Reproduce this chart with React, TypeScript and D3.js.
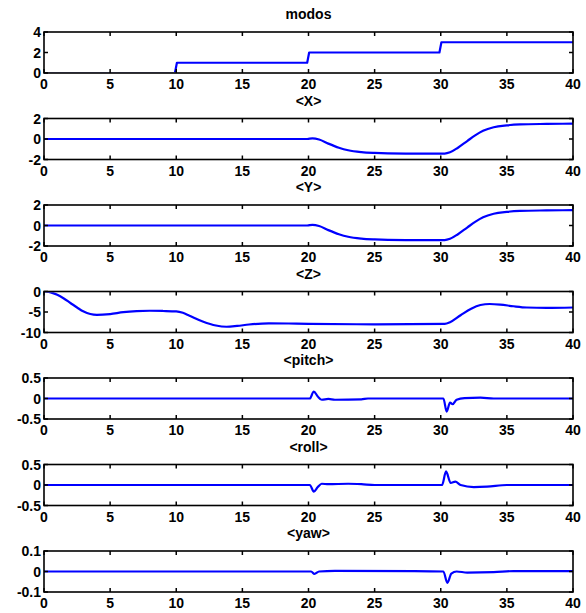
import React from "react";
import * as d3 from "d3";

const xTicks = [0, 5, 10, 15, 20, 25, 30, 35, 40];

const modos: [number, number][] = [
  [0, 0], [9.9, 0], [10.05, 1], [19.9, 1], [20.05, 2], [29.9, 2], [30.05, 3], [40, 3],
];

const posX: [number, number][] = [
  [0, 0], [19.9, 0], [20.3, 0.06], [20.8, -0.05], [21.5, -0.45], [22.3, -0.85], [23, -1.1],
  [24, -1.28], [25, -1.36], [26, -1.4], [28, -1.42], [30.3, -1.42], [30.7, -1.3], [31.3, -0.85],
  [32, -0.2], [32.6, 0.35], [33.2, 0.8], [34, 1.15], [35, 1.33], [36, 1.42], [38, 1.47], [40, 1.5],
];

const posY: [number, number][] = [
  [0, 0], [19.9, 0], [20.3, 0.06], [20.8, -0.05], [21.5, -0.45], [22.3, -0.85], [23, -1.1],
  [24, -1.28], [25, -1.36], [26, -1.4], [28, -1.42], [30.3, -1.42], [30.7, -1.3], [31.3, -0.85],
  [32, -0.2], [32.6, 0.35], [33.2, 0.8], [34, 1.15], [35, 1.33], [36, 1.42], [38, 1.47], [40, 1.5],
];

const posZ: [number, number][] = [
  [0, 0], [0.5, -0.2], [1, -0.8], [1.5, -1.7], [2, -2.8], [2.5, -3.9], [3, -4.9], [3.5, -5.5],
  [4, -5.7], [5, -5.5], [6, -5.05], [7, -4.8], [8, -4.7], [9, -4.75], [10, -4.85], [10.5, -5.2],
  [11, -5.9], [12, -7.3], [13, -8.3], [13.8, -8.6], [14.6, -8.4], [15.5, -8.05], [17, -7.75],
  [18.5, -7.8], [20, -7.9], [25, -8], [30.3, -7.9], [30.7, -7.5], [31.5, -5.8], [32.3, -4.2],
  [33, -3.3], [33.7, -3.05], [34.5, -3.2], [35.5, -3.6], [36.5, -3.9], [38, -4.0], [40, -3.9],
];

const pitch: [number, number][] = [
  [0, 0], [20.1, 0], [20.4, 0.17], [20.7, 0.05], [21, -0.03], [21.5, -0.01], [22, -0.03],
  [24, -0.02], [24.5, 0], [30.2, 0], [30.45, -0.32], [30.7, -0.1], [30.9, -0.14], [31.2, -0.03],
  [31.8, 0.01], [33, 0.02], [34, 0], [40, 0],
];

const roll: [number, number][] = [
  [0, 0], [20.1, 0], [20.4, -0.16], [20.7, -0.05], [21, 0.03], [21.5, 0.02], [23, 0.03],
  [24, 0.02], [25, 0], [30.1, 0], [30.4, 0.33], [30.75, 0.05], [31.1, 0.08], [31.5, 0.0],
  [32.5, -0.05], [33.5, -0.04], [35, 0], [40, 0],
];

const yaw: [number, number][] = [
  [0, 0], [20.2, 0], [20.45, -0.012], [20.8, 0.0], [22, 0.003], [28, 0.002], [30.2, 0],
  [30.5, -0.055], [30.8, -0.01], [31.2, 0], [32, -0.005], [34, -0.003], [35.5, 0.002], [40, 0.002],
];

const titles = ["modos", "<X>", "<Y>", "<Z>", "<pitch>", "<roll>", "<yaw>"];
const yDomains: [number, number][] = [[0, 4], [-2, 2], [-2, 2], [-10, 0], [-0.5, 0.5], [-0.5, 0.5], [-0.1, 0.1]];
const yTicks = [[0, 2, 4], [-2, 0, 2], [-2, 0, 2], [-10, -5, 0], [-0.5, 0, 0.5], [-0.5, 0, 0.5], [-0.1, 0, 0.1]];
const series = [modos, posX, posY, posZ, pitch, roll, yaw];

const W = 586;
const H = 613;
const left = 44;
const right = 573;
const firstTop = 32;
const step = 86.5;
const ph = 41;
const font = "'Liberation Sans', Arial, sans-serif";
const fs = 14;

function Panel({ i }: { i: number }) {
  const top = firstTop + i * step;
  const bottom = top + ph;
  const x = d3.scaleLinear().domain([0, 40]).range([left, right]);
  const y = d3.scaleLinear().domain(yDomains[i]).range([bottom, top]);
  const line = d3
    .line<[number, number]>()
    .x((d) => x(d[0]))
    .y((d) => y(d[1]))
    .curve(i === 0 ? d3.curveLinear : d3.curveMonotoneX);
  const tl = 4;
  const clipId = "clip" + i;
  return (
    <g>
      <defs>
        <clipPath id={clipId}>
          <rect x={left} y={top + 0.8} width={right - left} height={ph - 1.6} />
        </clipPath>
      </defs>
      <text x={(left + right) / 2} y={top - 13} textAnchor="middle" fontFamily={font} fontWeight="bold" fontSize={fs}>
        {titles[i]}
      </text>
      <path d={line(series[i]) || ""} fill="none" stroke="#0000ff" strokeWidth={2.2} strokeLinejoin="round" clipPath={`url(#${clipId})`} />
      {xTicks.map((t) => (
        <g key={"x" + t}>
          <line x1={x(t)} x2={x(t)} y1={bottom} y2={bottom - tl} stroke="#000" strokeWidth={1.5} />
          <line x1={x(t)} x2={x(t)} y1={top} y2={top + tl} stroke="#000" strokeWidth={1.5} />
          <text x={x(t)} y={bottom + 16} textAnchor="middle" fontFamily={font} fontWeight="bold" fontSize={fs}>
            {t}
          </text>
        </g>
      ))}
      {yTicks[i].map((t) => (
        <g key={"y" + t}>
          <line x1={left} x2={left + tl} y1={y(t)} y2={y(t)} stroke="#000" strokeWidth={1.5} />
          <line x1={right} x2={right - tl} y1={y(t)} y2={y(t)} stroke="#000" strokeWidth={1.5} />
          <text x={left - 3} y={y(t) + 5} textAnchor="end" fontFamily={font} fontWeight="bold" fontSize={fs}>
            {String(t)}
          </text>
        </g>
      ))}
      <rect x={left} y={top} width={right - left} height={ph} fill="none" stroke="#000" strokeWidth={1.6} />
    </g>
  );
}

export default function App() {
  return (
    <svg width={W} height={H} style={{ position: "absolute", left: 0, top: 0, background: "#fff" }}>
      <rect width={W} height={H} fill="#fff" />
      {titles.map((_, i) => (
        <Panel key={i} i={i} />
      ))}
    </svg>
  );
}
